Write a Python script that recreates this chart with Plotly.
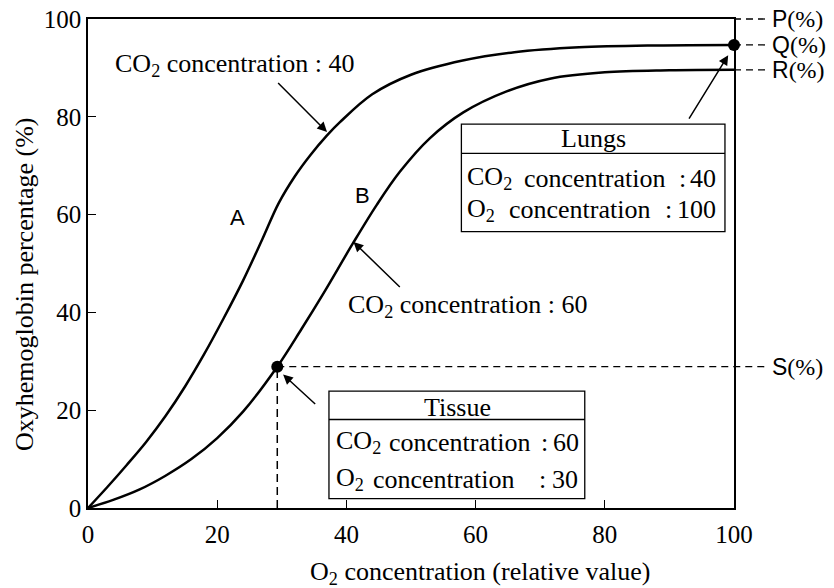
import plotly.graph_objects as go

# ---- data ----
X_RANGE = [0, 100]
Y_RANGE = [0, 100]
tick_vals = [0, 20, 40, 60, 80, 100]

# Curve A : CO2 concentration 40
o2_a = [0, 3, 6, 9, 12, 15, 18, 21, 24, 27, 29.5, 32, 34.5, 37, 39, 44, 50, 58, 66, 76, 88, 100]
hb_a = [0, 4.3, 8.8, 13.5, 18.8, 24.8, 31.5, 38.8, 46.5, 55.0, 62.3, 67.8, 72.3, 76.2, 78.9, 84.6, 88.6, 91.5, 93.2, 94.2, 94.6, 94.7]

# Curve B : CO2 concentration 60
o2_b = [0, 4, 8, 12, 16, 20, 24, 29.3, 33, 36.5, 41, 44.7, 48.3, 52.9, 58.1, 64.8, 71.5, 80, 90, 100]
hb_b = [0, 1.7, 3.8, 6.6, 10.0, 14.3, 19.7, 28.9, 36.5, 44.0, 54.1, 62.0, 68.8, 75.6, 80.9, 85.2, 87.8, 89.1, 89.5, 89.6]

# marked points
lungs_pt = (100, 94.7)
tissue_pt = (29.3, 28.9)

# reference levels on right
P_val, Q_val, R_val, S_val = 100, 94.7, 89.6, 28.9

SERIF = "Liberation Serif"
SANS = "Liberation Sans"


def yp(v):
    return (v - Y_RANGE[0]) / (Y_RANGE[1] - Y_RANGE[0])


def xp(v):
    return (v - X_RANGE[0]) / (X_RANGE[1] - X_RANGE[0])


fig = go.Figure()
for xs, ys in [(o2_a, hb_a), (o2_b, hb_b)]:
    fig.add_trace(go.Scatter(x=xs, y=ys, mode="lines",
                             line=dict(color="black", width=2.5, shape="spline", smoothing=1.0),
                             hoverinfo="skip", showlegend=False))

shapes = []
LBL_X = 1.0557  # paper x where right-hand labels start
DASH_END = 1.0526
for v, x0 in [(P_val, 1.0), (Q_val, 1.0), (R_val, 1.0), (S_val, xp(tissue_pt[0]))]:
    shapes.append(dict(type="line", xref="paper", yref="paper", x0=x0, x1=DASH_END,
                       y0=yp(v), y1=yp(v), line=dict(color="black", width=1.3, dash="7px,5px")))
shapes.append(dict(type="line", xref="x", yref="y", x0=tissue_pt[0], x1=tissue_pt[0],
                   y0=0, y1=tissue_pt[1], line=dict(color="black", width=1.5, dash="8px,5px")))

# boxes (Lungs / Tissue)
lungs_box = dict(x0=57.8, x1=98.6, y0=56.5, y1=78.5, div=72.5)
tissue_box = dict(x0=37.3, x1=76.9, y0=1.9, y1=23.9, div=18.1)
for b in (lungs_box, tissue_box):
    shapes.append(dict(type="rect", xref="x", yref="y", x0=b["x0"], x1=b["x1"], y0=b["y0"], y1=b["y1"],
                       fillcolor="white", line=dict(color="black", width=1.3), layer="above"))
    shapes.append(dict(type="line", xref="x", yref="y", x0=b["x0"], x1=b["x1"], y0=b["div"], y1=b["div"],
                       line=dict(color="black", width=1.3), layer="above"))

fig.add_trace(go.Scatter(x=[lungs_pt[0], tissue_pt[0]], y=[lungs_pt[1], tissue_pt[1]], mode="markers",
                         marker=dict(color="black", size=12), cliponaxis=False,
                         hoverinfo="skip", showlegend=False))

ann = []
F = dict(family=SERIF, size=26, color="black")
FS = dict(family=SANS, size=22, color="black")


def text(x, y, t, xanchor="center", font=None):
    ann.append(dict(x=x, y=y, xref="x", yref="y", text=t, showarrow=False,
                    xanchor=xanchor, yanchor="middle", font=font or F))


def arrow(x_head, y_head, x_tail, y_tail):
    ann.append(dict(x=x_head, y=y_head, ax=x_tail, ay=y_tail, xref="x", yref="y",
                    axref="x", ayref="y", text="", showarrow=True, arrowhead=2,
                    arrowsize=1.3, arrowwidth=1.5, arrowcolor="black", standoff=0))


text(22.6, 90.6, "CO<sub>2</sub> concentration : 40")
text(58.8, 41.3, "CO<sub>2</sub> concentration : 60")
text(23.1, 59.5, "A", font=FS)
text(42.5, 63.9, "B", font=FS)

# Lungs box texts
text(78.2, 75.6, "Lungs")
text(58.36, 67.4, "CO<sub>2</sub>", xanchor="left")
text(67.18, 67.4, "concentration", xanchor="left")
text(92.1, 67.4, ":")
text(97.52, 67.4, "40", xanchor="right")
text(58.36, 61.0, "O<sub>2</sub>", xanchor="left")
text(64.86, 61.0, "concentration", xanchor="left")
text(89.9, 61.0, ":")
text(97.52, 61.0, "100", xanchor="right")

# Tissue box texts
text(57.12, 20.5, "Tissue")
text(38.08, 13.4, "CO<sub>2</sub>", xanchor="left")
text(46.28, 13.4, "concentration", xanchor="left")
text(70.6, 13.4, ":")
text(76.32, 13.4, "60", xanchor="right")
text(38.08, 5.9, "O<sub>2</sub>", xanchor="left")
text(55.1, 5.9, "concentration")
text(70.4, 5.9, ":")
text(76.16, 5.9, "30", xanchor="right")

# arrows
arrow(37.0, 76.9, 29.2, 87.2)
arrow(41.1, 54.4, 48.5, 44.9)
arrow(30.2, 27.3, 35.4, 21.0)
arrow(99.1, 92.6, 92.9, 79.3)

# right-hand labels
for lab, v in [("P", P_val), ("Q", Q_val), ("R", R_val), ("S", S_val)]:
    ann.append(dict(x=LBL_X, y=yp(v), xref="paper", yref="paper", showarrow=False,
                    xanchor="left", yanchor="middle",
                    text='<span style="font-family:Liberation Sans;font-size:23px">' + lab + '</span>(%)',
                    font=dict(family=SERIF, size=24, color="black")))

# axis titles
ann.append(dict(x=0.607, y=-0.133, xref="paper", yref="paper", showarrow=False,
                text="O<sub>2</sub> concentration (relative value)",
                xanchor="center", yanchor="middle", font=dict(family=SERIF, size=26, color="black")))
ann.append(dict(x=-0.099, y=0.458, xref="paper", yref="paper", showarrow=False,
                text="Oxyhemoglobin percentage (%)", textangle=-90,
                xanchor="center", yanchor="middle", font=dict(family=SERIF, size=26, color="black")))

axis_common = dict(showgrid=False, zeroline=False, showline=True, linecolor="black", linewidth=1.5,
                   mirror=True, ticks="inside", ticklen=8, tickwidth=1.3, tickcolor="black",
                   tickvals=tick_vals, automargin=False,
                   tickfont=dict(family=SERIF, size=25, color="black"))

fig.update_layout(
    width=834, height=588,
    margin=dict(l=88, r=100, t=19, b=80),
    paper_bgcolor="white", plot_bgcolor="white",
    xaxis=dict(range=X_RANGE, ticklabelstandoff=3, **axis_common),
    yaxis=dict(range=Y_RANGE, **axis_common),
    shapes=shapes, annotations=ann,
    showlegend=False,
)

# remove the browser's default 8px body margin so the figure fills the window
fig.write_html("out.html", config={"displayModeBar": False},
               post_script="document.body.style.margin='0px';")
